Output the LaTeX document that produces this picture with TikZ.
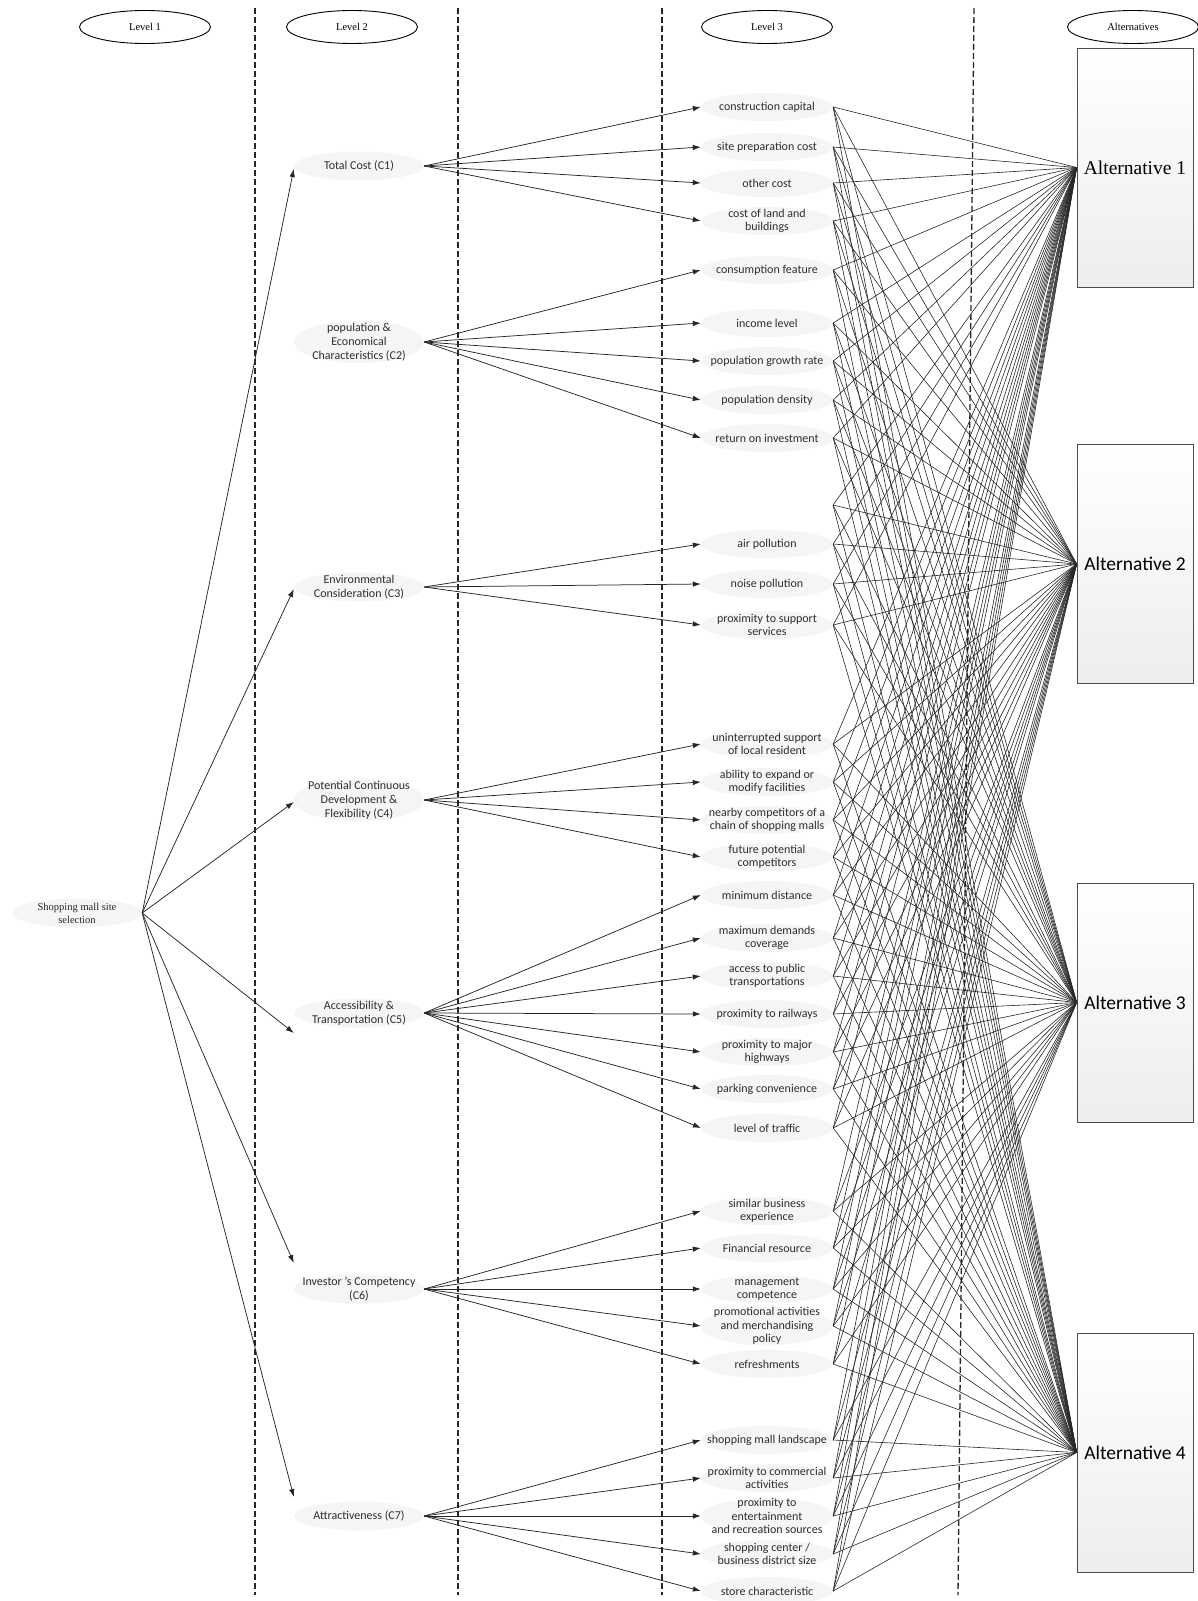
\documentclass[tikz,border=0pt]{standalone}
\usepackage{fontspec}
\setmainfont{Carlito}
\newfontfamily\timesfont{Liberation Serif}
\usetikzlibrary{arrows.meta,shapes.geometric}

\tikzset{
  header/.style={ellipse, draw, line width=0.9pt, minimum width=131pt, minimum height=33pt,
    inner sep=0pt, font=\timesfont\fontsize{10.5}{12}\selectfont},
  goal/.style={ellipse, fill=black!4, minimum width=130pt, minimum height=29pt,
    inner xsep=-20pt, inner ysep=-3pt, align=center, text=black!85,
    font=\timesfont\fontsize{10.5}{13}\selectfont},
  criterion/.style={ellipse, fill=black!4, minimum width=130pt, minimum height=29pt,
    inner xsep=-25pt, inner ysep=-4pt, align=center, text=black!82,
    font=\fontsize{12}{14}\selectfont},
  subcriterion/.style={ellipse, fill=black!4, minimum width=132pt, minimum height=28pt,
    inner xsep=-25pt, inner ysep=-5pt, align=center, text=black!82,
    font=\fontsize{12}{13.5}\selectfont},
  altbox/.style={rectangle, draw=black!70, line width=0.8pt, top color=white,
    bottom color=black!7, minimum width=116pt, minimum height=239pt,
    font=\fontsize{19.5}{21}\selectfont},
  divider/.style={dash pattern=on 6pt off 3pt, line width=1.3pt, draw=black!85},
  arrowline/.style={-{Latex[length=8pt,width=5.5pt]}, line width=0.75pt, draw=black!85},
  meshline/.style={line width=0.6pt, draw=black!85},
}

\begin{document}
\begin{tikzpicture}[x=1pt, y=-1pt]
  \useasboundingbox (0,0) rectangle (1198,1601);

  % Dividers between the levels
  \foreach \xa/\xb in {255/255, 458/458, 662/662, 974/958}
    \draw[divider] (\xa,8) -- (\xb,1595);

  % Level headers
  \node[header] (hlev1) at (145,27) {Level 1};
  \node[header] (hlev2) at (352,27) {Level 2};
  \node[header] (hlev3) at (767,27) {Level 3};
  \node[header] (halt) at (1133,27) {Alternatives};

  % Level 1
  \node[goal] (goal) at (77,913) {Shopping mall site\\selection};

  % Level 2 criteria
  \foreach \name/\ypos/\txt in {
      c1/166/{Total Cost (C1)},
      c2/342/{population \&\\Economical\\Characteristics (C2)},
      c3/587/{Environmental\\Consideration (C3)},
      c4/800/{Potential Continuous\\Development \&\\Flexibility (C4)},
      c5/1013/{Accessibility \&\\Transportation (C5)},
      c6/1289/{Investor 's Competency\\(C6)},
      c7/1516/{Attractiveness (C7)}}
    \node[criterion] (\name) at (359,\ypos) {\txt};

  % Level 3 sub-criteria
  \foreach \name/\ypos/\txt in {
      cc/107/{construction capital},
      spc/147/{site preparation cost},
      oc/183/{other cost},
      clb/221/{cost of land and\\buildings},
      cf/270/{consumption feature},
      il/323/{income level},
      pgr/361/{population growth rate},
      pd/400/{population density},
      roi/438/{return on investment},
      ap/544/{air pollution},
      np/584/{noise pollution},
      pss/625/{proximity to support\\services},
      usl/744/{uninterrupted support\\of local resident},
      aem/782/{ability to expand or\\modify facilities},
      ncc/820/{nearby competitors of a\\chain of shopping malls},
      fpc/857/{future potential\\competitors},
      md/895/{minimum distance},
      mdc/938/{maximum demands\\coverage},
      apt/976/{access to public\\transportations},
      pr/1014/{proximity to railways},
      pmh/1052/{proximity to major\\highways},
      pc/1089/{parking convenience},
      lt/1128/{level of traffic},
      sbe/1211/{similar business\\experience},
      fr/1248/{Financial resource},
      mc/1289/{management\\competence},
      pam/1326/{promotional activities\\and merchandising\\policy},
      rf/1364/{refreshments},
      sml/1440/{shopping mall landscape},
      pca/1478/{proximity to commercial\\activities},
      pers/1516/{proximity to\\entertainment\\and recreation sources},
      scb/1554/{shopping center /\\business district size},
      sch/1591/{store characteristic}}
    \node[subcriterion] (\name) at (767,\ypos) {\txt};
  \coordinate (blank) at (833,505);

  % Alternatives
  \node[altbox] (alt1) at (1135,167.5) {\timesfont Alternative 1};
  \node[altbox] (alt2) at (1135,564) {Alternative 2};
  \node[altbox] (alt3) at (1135,1002.5) {Alternative 3};
  \node[altbox] (alt4) at (1135,1452.5) {Alternative 4};

  % Level 1 -> Level 2
  \foreach \name/\dy in {c1/-3, c3/-2, c4/-2, c5/-20, c6/26, c7/19}
    \draw[arrowline] (goal.east) -- ([yshift=\dy pt]\name.west);

  % Level 2 -> Level 3
  \foreach \c/\subs in {c1/{cc,spc,oc,clb}, c2/{cf,il,pgr,pd,roi}, c3/{ap,np,pss},
      c4/{usl,aem,ncc,fpc}, c5/{md,mdc,apt,pr,pmh,pc,lt}, c6/{sbe,fr,mc,pam,rf},
      c7/{sml,pca,pers,scb,sch}}
    \foreach \s in \subs
      \draw[arrowline] (\c.east) -- (\s.west);

  % Level 3 -> Alternatives
  \foreach \s in {cc,spc,oc,clb,cf,il,pgr,pd,roi,ap,np,pss,usl,aem,ncc,fpc,md,mdc,
      apt,pr,pmh,pc,lt,sbe,fr,mc,pam,rf,sml,pca,pers,scb,sch}
    \foreach \a in {1,...,4}
      \draw[meshline] (\s.east) -- (alt\a.west);
  \foreach \a in {1,...,4}
    \draw[meshline] (blank) -- (alt\a.west);
\end{tikzpicture}
\end{document}
